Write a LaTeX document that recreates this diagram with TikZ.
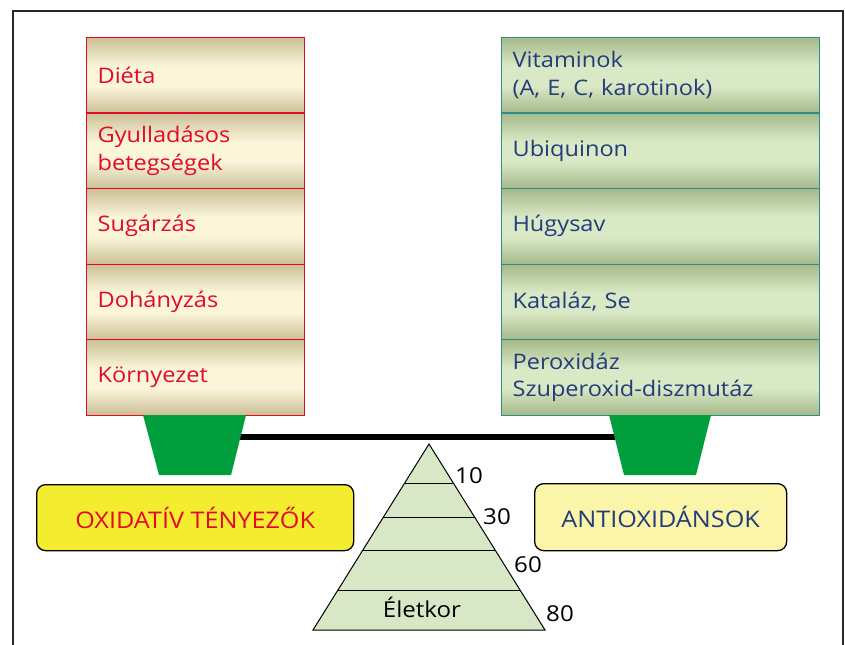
\documentclass[tikz,border=0pt]{standalone}
\usepackage{fontspec}
\setmainfont{Open Sans}[FakeStretch=1.1]
\usetikzlibrary{calc}
\definecolor{redtxt}{HTML}{E30A27}
\definecolor{bluetxt}{HTML}{233C7B}
\definecolor{tanedge}{HTML}{CBBF96}
\definecolor{cream}{HTML}{FBF6DA}
\definecolor{greenedge}{HTML}{A5B98A}
\definecolor{lightgreen}{HTML}{D9E9C6}
\definecolor{tealline}{HTML}{2B8E8A}
\definecolor{standgreen}{HTML}{009E3C}
\definecolor{yelbox}{HTML}{F3EC2F}
\definecolor{paleyel}{HTML}{FBF5AA}
\definecolor{pyrfill}{HTML}{D8E8C6}
\pgfdeclareverticalshading{lrowshade}{100bp}{color(0bp)=(tanedge); color(25bp)=(tanedge); color(43bp)=(cream); color(56bp)=(cream); color(75bp)=(tanedge); color(100bp)=(tanedge)}
\pgfdeclareverticalshading{rrowshade}{100bp}{color(0bp)=(greenedge); color(25bp)=(greenedge); color(43bp)=(lightgreen); color(56bp)=(lightgreen); color(75bp)=(greenedge); color(100bp)=(greenedge)}
\tikzset{
  lrow/.style={draw=redtxt, line width=1.2bp, shading=lrowshade,
    text=redtxt, minimum width=218bp, minimum height=75.5bp, text width=196bp, inner xsep=11bp,
    align=left, anchor=north west, font=\fontsize{21.5}{28}\selectfont},
  rrow/.style={draw=tealline, line width=1.2bp, shading=rrowshade,
    text=bluetxt, minimum width=318bp, minimum height=75.5bp, text width=296bp, inner xsep=11bp,
    align=left, anchor=north west, font=\fontsize{21.5}{28}\selectfont},
  label box/.style={draw=black, line width=1.3bp, rounded corners=9bp, font=\fontsize{23}{27}\selectfont},
  num/.style={font=\fontsize{22}{24}\selectfont, text=black, inner sep=0pt},
  stand/.style={fill=standgreen},
  frameline/.style={line width=1.6bp, draw=black!85}
}
\begin{document}
\begin{tikzpicture}[x=1bp, y=-1bp]
\useasboundingbox (0,0) rectangle (845,645);
% frame
\draw[frameline] (13,645) -- (13,11) -- (843,11) -- (843,645);

% left column
\node[lrow] (l1) at (86,37) {Diéta};
\node[lrow] (l2) at (86,112.5) {Gyulladásos\\betegségek};
\node[lrow] (l3) at (86,188) {Sugárzás};
\node[lrow] (l4) at (86,263.5) {Dohányzás};
\node[lrow] (l5) at (86,339) {Környezet};

% right column
\node[rrow] (r1) at (501,37) {Vitaminok\\(A, E, C, karotinok)};
\node[rrow] (r2) at (501,112.5) {Ubiquinon};
\node[rrow] (r3) at (501,188) {Húgysav};
\node[rrow] (r4) at (501,263.5) {Kataláz, Se};
\node[rrow] (r5) at (501,339) {Peroxidáz\\Szuperoxid-diszmutáz};

% beam
\coordinate (bl) at (238,436.5);
\coordinate (br) at (617,436.5);
\draw[line width=6bp] (bl) -- (br);

% stands
\fill[stand] (143,415) -- (246,415) -- (231,475) -- (159,475) -- cycle;
\fill[stand] (609,415) -- (711,415) -- (696,475) -- (624,475) -- cycle;

% label boxes
\node[label box, fill=yelbox, text=redtxt, minimum width=317bp, minimum height=66bp, anchor=north west] (ox) at (36,484) {OXIDATÍV TÉNYEZŐK};
\node[label box, fill=paleyel, text=bluetxt, minimum width=252bp, minimum height=67bp, anchor=north west] (ax) at (534,483) {ANTIOXIDÁNSOK};

% pyramid
\coordinate (apex) at (429,444);
\coordinate (pl) at (313,630);
\coordinate (pr) at (545,630);
\draw[fill=pyrfill, line width=1bp] (apex) -- (pl) -- (pr) -- cycle;
\foreach \t in {0.2097,0.3925,0.5699,0.785}{
  \draw[line width=1bp] ($(apex)!\t!(pl)$) -- ($(apex)!\t!(pr)$);
}
\node[num] (age) at (422,607) {Életkor};
\node[num] (n10) at (469,476) {10};
\node[num] (n30) at (497,517) {30};
\node[num] (n60) at (528,565) {60};
\node[num] (n80) at (560,614) {80};
\end{tikzpicture}
\end{document}
